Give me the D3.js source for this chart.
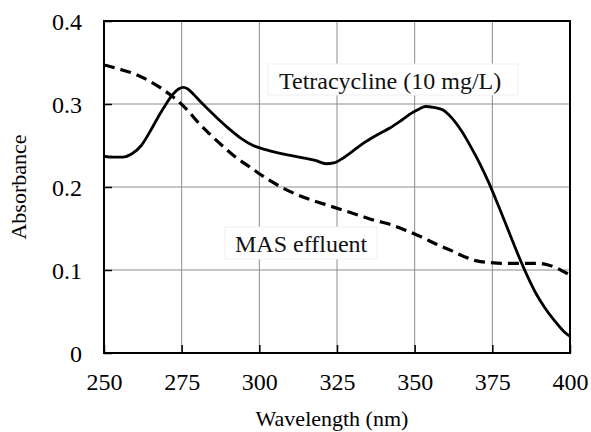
<!DOCTYPE html>
<html>
<head>
<meta charset="utf-8">
<script src="https://cdn.jsdelivr.net/npm/d3@7"></script>
<style>
  html, body { margin: 0; padding: 0; background: #fff; }
  svg { display: block; }
  svg text { font-family: "Liberation Serif", "DejaVu Serif", "Times New Roman", serif; }
</style>
</head>
<body>
<svg id="chart" width="591" height="432"></svg>
<script>
const xTicks = [250, 275, 300, 325, 350, 375, 400];
const yTicks = [0, 0.1, 0.2, 0.3, 0.4];
const yTickLabels = ["0", "0.1", "0.2", "0.3", "0.4"];

const tetraWavelength = [250, 253, 256, 259, 262, 265, 268, 270, 272, 274, 275.5, 277, 279, 281, 284, 287, 290, 294, 298, 302, 306, 310, 314, 318, 321.5, 324, 327, 330, 334, 338, 342, 346, 349, 351.5, 353.5, 356, 359, 362, 365, 368, 371, 374, 377, 380, 383, 386, 389, 392, 395, 398, 400];
const tetraAbs = [0.237, 0.236, 0.236, 0.240, 0.250, 0.268, 0.288, 0.300, 0.311, 0.318, 0.320, 0.318, 0.311, 0.303, 0.292, 0.281, 0.271, 0.259, 0.250, 0.245, 0.241, 0.238, 0.235, 0.232, 0.228, 0.229, 0.235, 0.243, 0.254, 0.263, 0.271, 0.281, 0.289, 0.294, 0.297, 0.296, 0.293, 0.283, 0.268, 0.249, 0.228, 0.204, 0.177, 0.149, 0.121, 0.095, 0.072, 0.054, 0.039, 0.026, 0.020];

const masWavelength = [250, 255, 260, 264, 268, 271, 274, 277, 280, 284, 288, 292, 297, 302, 307, 312, 317, 322, 327, 332, 337, 342, 347, 352, 357, 362, 366, 370, 374, 378, 382, 386, 390, 393, 396, 398, 400];
const masAbs = [0.347, 0.342, 0.336, 0.329, 0.320, 0.312, 0.303, 0.292, 0.279, 0.264, 0.250, 0.237, 0.224, 0.211, 0.200, 0.191, 0.184, 0.178, 0.172, 0.166, 0.160, 0.155, 0.148, 0.140, 0.131, 0.123, 0.116, 0.111, 0.109, 0.108, 0.108, 0.108, 0.108, 0.106, 0.102, 0.098, 0.094];

const labelTetra = "Tetracycline (10 mg/L)";
const labelMas = "MAS effluent";
const xTitle = "Wavelength (nm)";
const yTitle = "Absorbance";

const svg = d3.select("#chart");
const L = 104, R = 570, T = 21, B = 353;

const x = d3.scaleLinear().domain([250, 400]).range([L, R]);
const y = d3.scaleLinear().domain([0, 0.4]).range([B, T]);

// gridlines
svg.append("g").selectAll("line").data(xTicks.slice(1, -1)).join("line")
  .attr("x1", d => x(d)).attr("x2", d => x(d)).attr("y1", T).attr("y2", B)
  .attr("stroke", "#8c8c8c").attr("stroke-width", 1);
svg.append("g").selectAll("line").data(yTicks.slice(1, -1)).join("line")
  .attr("y1", d => y(d)).attr("y2", d => y(d)).attr("x1", L).attr("x2", R)
  .attr("stroke", "#8c8c8c").attr("stroke-width", 1);

// axes with inward ticks
const xAxis = d3.axisBottom(x).tickValues(xTicks).tickSizeInner(-8).tickSizeOuter(0).tickFormat(d3.format("d"));
const gx = svg.append("g").attr("transform", `translate(0,${B})`).call(xAxis);
gx.attr("font-family", null).attr("font-size", null);
gx.select(".domain").remove();
gx.selectAll(".tick line").attr("stroke", "#000").attr("stroke-width", 1.5);
gx.selectAll(".tick text").style("font-size", "24px").attr("fill", "#000")
  .attr("dy", 0).attr("y", 37);

const yAxis = d3.axisLeft(y).tickValues(yTicks).tickSizeInner(-8).tickSizeOuter(0).tickPadding(22)
  .tickFormat((d, i) => yTickLabels[i]);
const gy = svg.append("g").attr("transform", `translate(${L},0)`).call(yAxis);
gy.attr("font-family", null).attr("font-size", null);
gy.select(".domain").remove();
gy.selectAll(".tick line").attr("stroke", "#000").attr("stroke-width", 1.5);
gy.selectAll(".tick text").style("font-size", "24px").attr("fill", "#000")
  .attr("dy", "0.34em");

// frame
svg.append("rect").attr("x", L).attr("y", T).attr("width", R - L).attr("height", B - T)
  .attr("fill", "none").attr("stroke", "#000").attr("stroke-width", 2);

// label boxes
function labelBox(text, tx, ty, bx, by, bw, bh) {
  svg.append("rect").attr("x", bx).attr("y", by).attr("width", bw).attr("height", bh)
    .attr("fill", "#fff").attr("stroke", "#f0f0f0").attr("stroke-width", 1);
  svg.append("text").attr("x", tx).attr("y", ty).style("font-size", "24px")
    .attr("fill", "#111").text(text);
}
labelBox(labelTetra, 279, 89, 268, 64, 250, 31);
labelBox(labelMas, 235, 252, 225, 227, 152, 32);

// lines
const lineGen = d3.line().x(d => x(d[0])).y(d => y(d[1])).curve(d3.curveMonotoneX);
const tetraData = tetraWavelength.map((w, i) => [w, tetraAbs[i]]);
const masData = masWavelength.map((w, i) => [w, masAbs[i]]);

svg.append("path").datum(masData).attr("d", lineGen)
  .attr("fill", "none").attr("stroke", "#000").attr("stroke-width", 3.2)
  .attr("stroke-dasharray", "11,6");
svg.append("path").datum(tetraData).attr("d", lineGen)
  .attr("fill", "none").attr("stroke", "#000").attr("stroke-width", 2.8);

// axis titles
svg.append("text").attr("x", 332).attr("y", 426).attr("text-anchor", "middle")
  .style("font-size", "22px").attr("fill", "#000").text(xTitle);
svg.append("text").attr("transform", `translate(26,${(T + B) / 2}) rotate(-90)`).attr("text-anchor", "middle")
  .style("font-size", "22px").attr("fill", "#000").text(yTitle);
</script>
</body>
</html>
